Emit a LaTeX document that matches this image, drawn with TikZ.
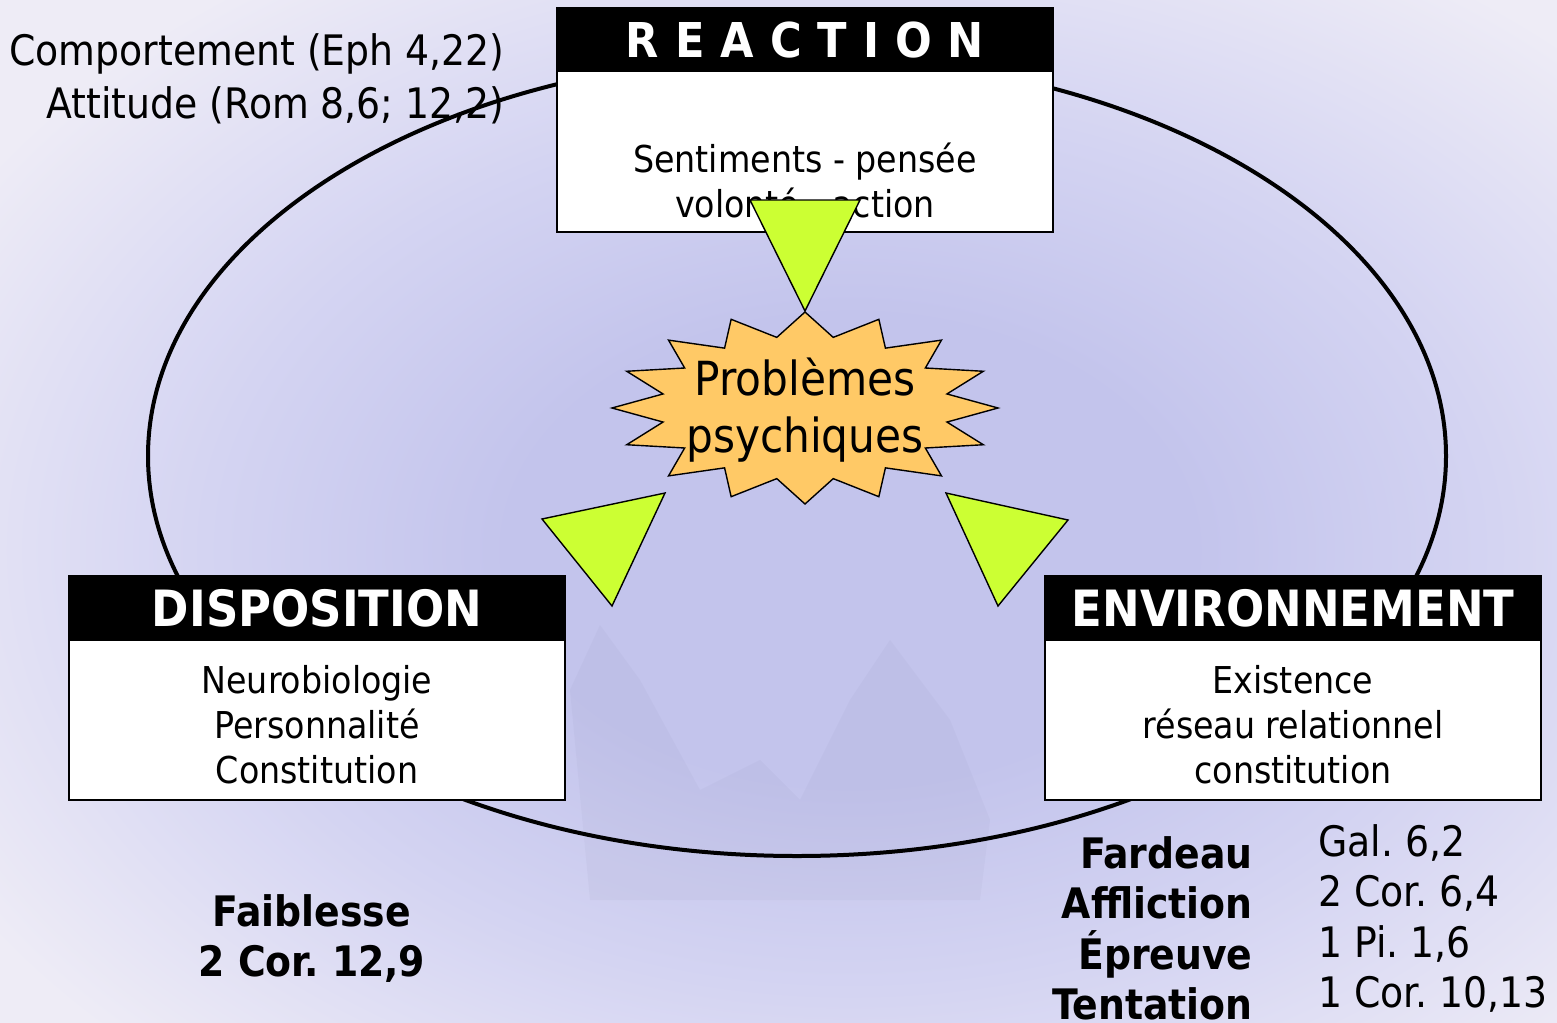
\documentclass[tikz,border=0pt]{standalone}
\usepackage{fontspec}
\setmainfont{DejaVu Sans Condensed}
\frenchspacing
\definecolor{limetri}{HTML}{CCFF33}
\definecolor{starorange}{HTML}{FFC966}
\definecolor{bginner}{HTML}{C3C4EC}
\definecolor{bgmid}{HTML}{D4D4F2}
\definecolor{bgouter}{HTML}{EEECF6}
\definecolor{mistgrey}{HTML}{8E8EB0}
\pgfdeclareradialshading{bgshade}{\pgfpoint{0bp}{0bp}}{color(0bp)=(bginner);
  color(9bp)=(bginner); color(17bp)=(bgmid); color(27bp)=(bgouter); color(50bp)=(bgouter)}
\begin{document}
\begin{tikzpicture}[x=0.5pt,y=-0.5pt,
  boxbody/.style={draw=black,line width=1pt,fill=white,minimum width=248pt,minimum height=112pt,inner sep=0pt},
  boxhead/.style={fill=black,text=white,font=\bfseries\fontsize{25}{30}\selectfont,minimum width=248pt,minimum height=32.5pt,inner sep=0pt},
  bodytext/.style={align=center,font=\fontsize{18.5}{22.5}\selectfont,inner sep=0pt},
  sidetext/.style={font=\fontsize{21}{25.5}\selectfont,inner sep=0pt},
  boldtext/.style={font=\bfseries\fontsize{21}{25}\selectfont,inner sep=0pt},
  arrowtri/.style={fill=limetri,draw=black,line width=0.7pt,line join=miter},
  starfill/.style={fill=starorange,draw=black,line width=0.7pt}]
  \useasboundingbox (0,0) rectangle (1557,1022);
  % background
  \shade[shading=bgshade] (-100,-100) rectangle (1800,1200);
  \fill[mistgrey,opacity=0.08] (570,690) -- (600,625) -- (640,680) -- (700,790) -- (760,760) -- (800,800) -- (850,700) -- (890,640) -- (950,720) -- (990,820) -- (980,900) -- (590,900) -- cycle;
  % texts at top left
  \node[sidetext,anchor=east] (behav) at (505,54) {Comportement (Eph 4,22)};
  \node[sidetext,anchor=east] (attit) at (505,105) {Attitude (Rom 8,6; 12,2)};
  % the cycle
  \draw[line width=2pt] (797,456) ellipse [x radius=649,y radius=400];
  % boxes
  \node[boxbody] (react) at (805,120) {};
  \node[boxhead,font=\bfseries\fontsize{24}{29}\selectfont] (reacthead) at (805,40) {R\,\,E\,\,A\,\,C\,\,T\,\,I\,\,O\,\,N};
  \node[bodytext] (reacttext) at (805,180) {Sentiments - pensée\\volonté - action};
  \node[boxbody] (dispo) at (317,688) {};
  \node[boxhead] (dispohead) at (317,608.5) {DISPOSITION};
  \node[bodytext] (dispotext) at (317,725) {Neurobiologie\\Personnalité\\Constitution};
  \node[boxbody] (envir) at (1293,688) {};
  \node[boxhead] (envirhead) at (1293,608.5) {ENVIRONNEMENT};
  \node[bodytext] (envirtext) at (1293,725) {Existence\\réseau relationnel\\constitution};
  % star in the middle
  \draw[starfill] plot[samples at={0,11.25,...,348.75}]
    ({805+193*(1-0.25*mod(round(\x/11.25),2))*cos(\x)},{408-96*(1-0.25*mod(round(\x/11.25),2))*sin(\x)}) -- cycle;
  \node[font=\fontsize{23.5}{28.5}\selectfont,align=center,inner sep=0pt] (probl) at (805,410) {Problèmes\\psychiques};
  % triangles
  \filldraw[arrowtri] (750,200) -- (860,200) -- (805,311) -- cycle;
  \filldraw[arrowtri] (542,519) -- (665,493) -- (612,606) -- cycle;
  \filldraw[arrowtri] (946,493) -- (1068,520) -- (998,606) -- cycle;
  % bottom texts
  \node[boldtext,align=center] (weak) at (312,939) {Faiblesse\\2 Cor. 12,9};
  \node[boldtext,anchor=east] (burden) at (1253,853) {Fardeau};
  \node[boldtext,anchor=east] (afflic) at (1253,903) {Affliction};
  \node[boldtext,anchor=east] (trial) at (1253,954) {Épreuve};
  \node[boldtext,anchor=east] (tempt) at (1253,1004) {Tentation};
  \node[sidetext,anchor=west] (gal) at (1318,843) {Gal. 6,2};
  \node[sidetext,anchor=west] (cora) at (1318,893) {2 Cor. 6,4};
  \node[sidetext,anchor=west] (pi) at (1318,944) {1 Pi. 1,6};
  \node[sidetext,anchor=west] (corb) at (1318,994) {1 Cor. 10,13};
\end{tikzpicture}
\end{document}
